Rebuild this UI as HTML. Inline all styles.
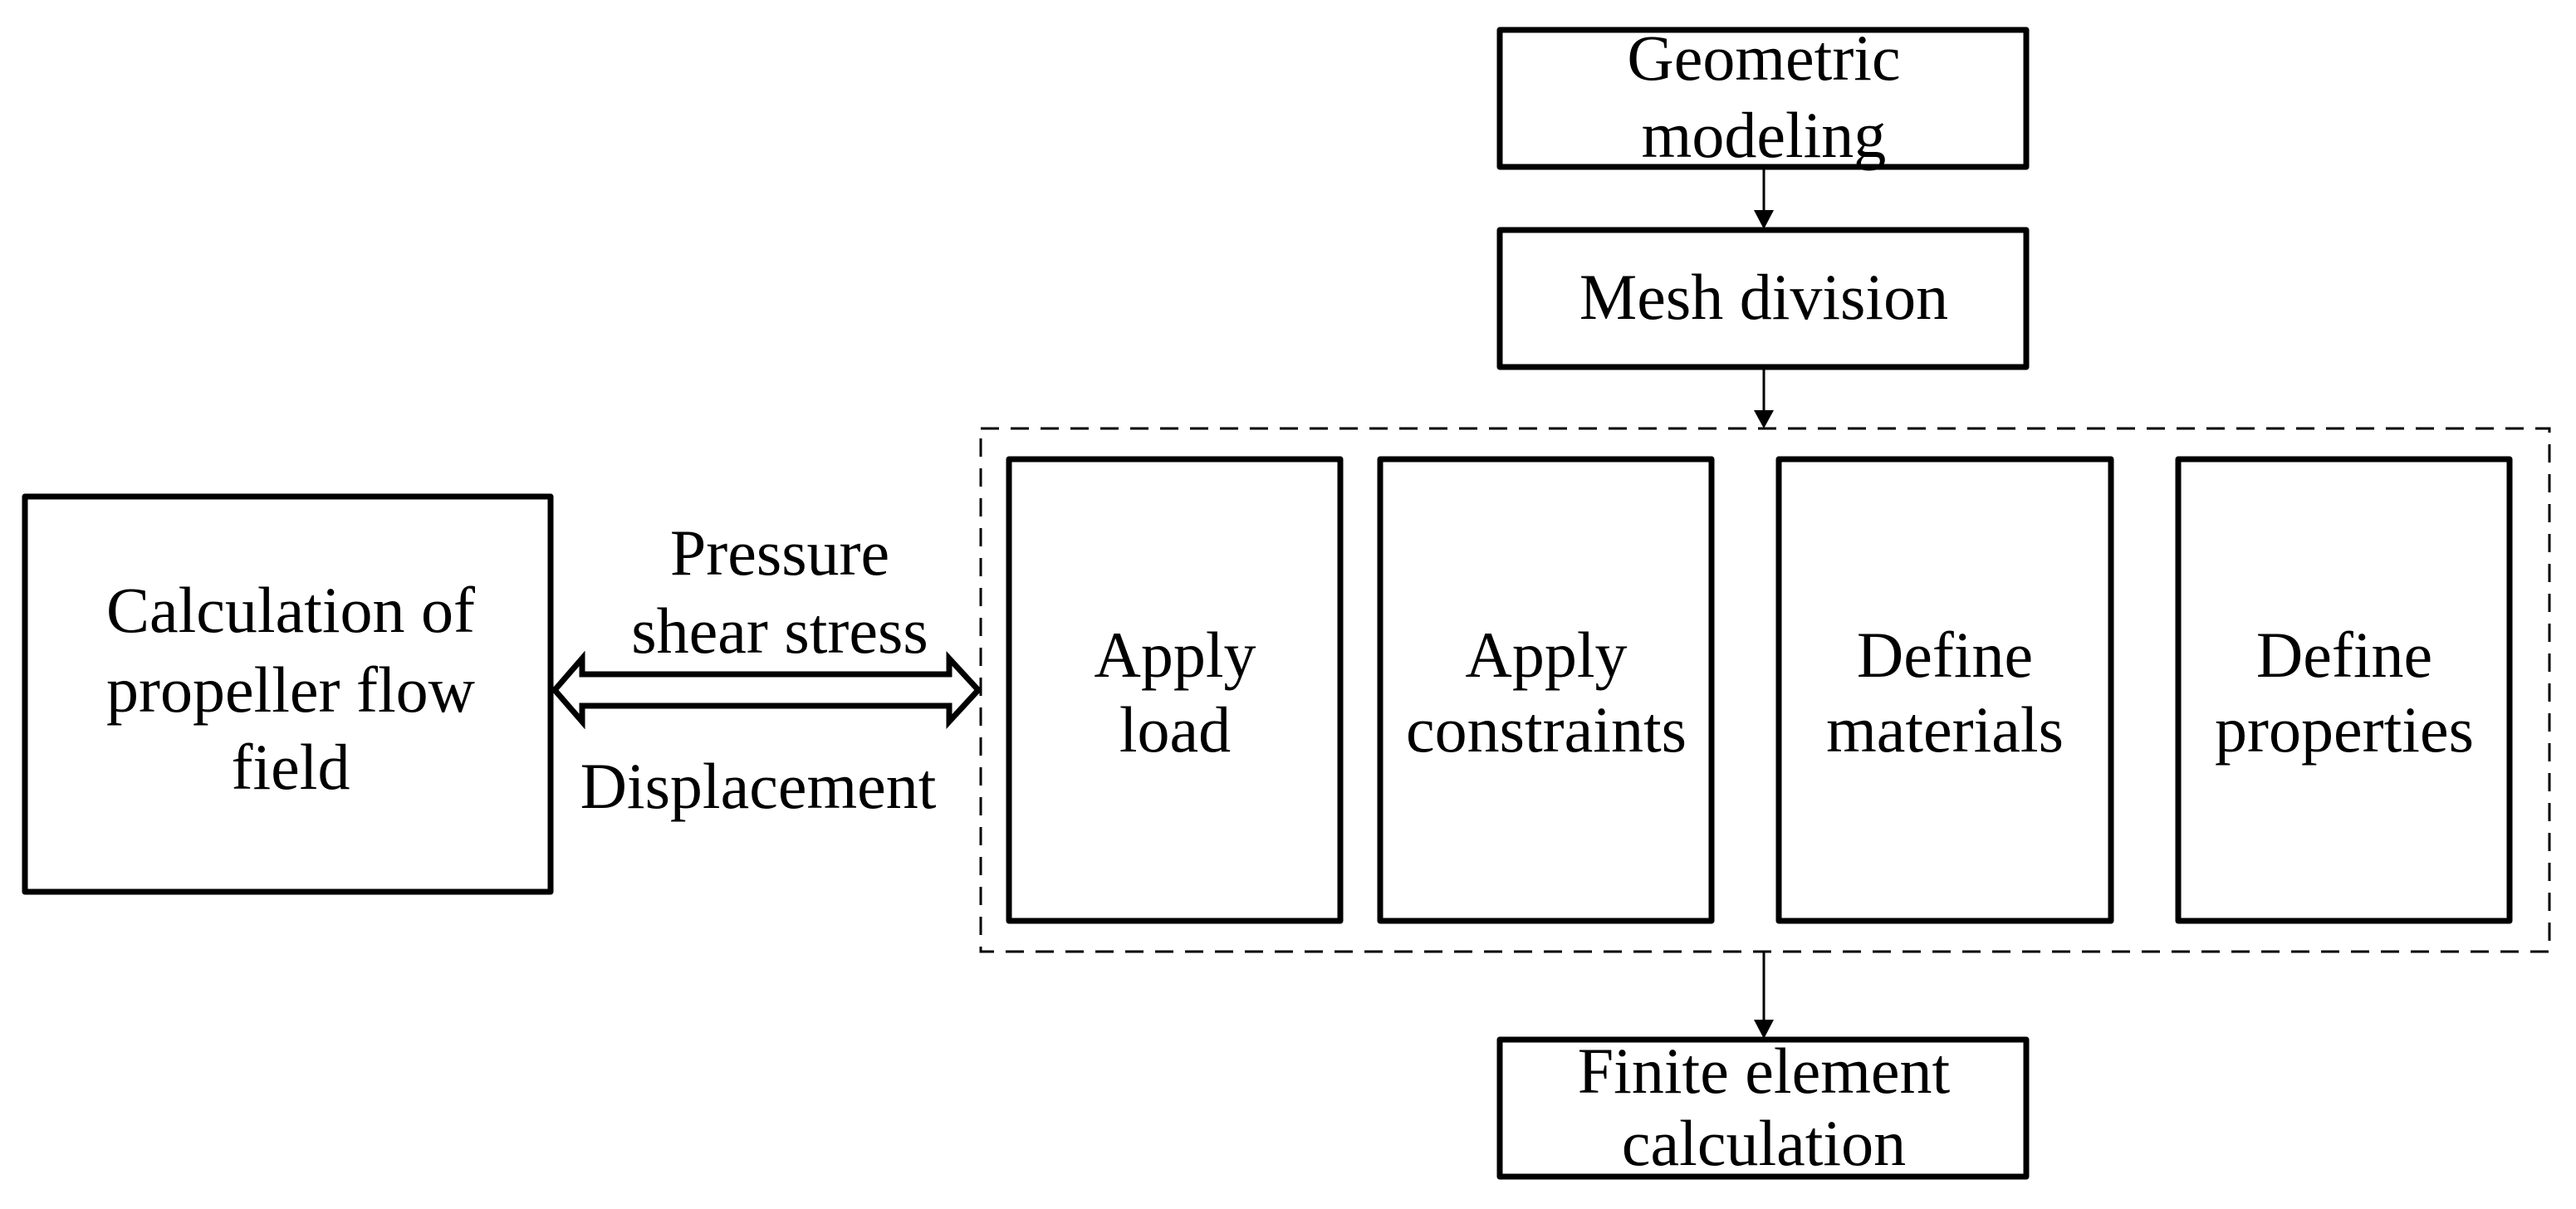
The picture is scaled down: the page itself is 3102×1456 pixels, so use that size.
<!DOCTYPE html>
<html><head><meta charset="utf-8"><style>
html,body{margin:0;padding:0;background:#fff;}
svg{display:block;}
text{font-family:"Liberation Serif",serif;font-size:78px;fill:#000;text-anchor:middle;}
</style></head><body>
<svg width="3102" height="1456" viewBox="0 0 3102 1456" xmlns="http://www.w3.org/2000/svg">
<g fill="none" stroke="#000" stroke-width="7" stroke-linejoin="round">
<rect x="30" y="598" width="633" height="476"/>
<rect x="1806" y="36" width="634" height="165"/>
<rect x="1806" y="277" width="634" height="165"/>
<rect x="1806" y="1252" width="634" height="165"/>
<rect x="1215" y="553" width="399" height="556"/>
<rect x="1662" y="553" width="399" height="556"/>
<rect x="2142" y="553" width="400" height="556"/>
<rect x="2623" y="553" width="399" height="556"/>
</g>
<rect x="1181" y="516" width="1889" height="630" fill="none" stroke="#000" stroke-width="3" stroke-dasharray="22,14"/>
<g stroke="#000" stroke-width="3">
<line x1="2124" y1="203" x2="2124" y2="255"/>
<line x1="2124" y1="444" x2="2124" y2="496"/>
<line x1="2124" y1="1146" x2="2124" y2="1230"/>
</g>
<g fill="#000">
<polygon points="2112,253 2136,253 2124,276"/>
<polygon points="2112,494 2136,494 2124,516"/>
<polygon points="2112,1228 2136,1228 2124,1251"/>
</g>
<polygon points="668,831 701,793 701,812 1143,812 1143,793 1178,831 1143,869 1143,850 701,850 701,869" fill="#fff" stroke="#000" stroke-width="7" stroke-linejoin="miter"/>
<text x="350" y="761">Calculation of</text>
<text x="350" y="857">propeller flow</text>
<text x="350" y="950">field</text>
<text x="939" y="692">Pressure</text>
<text x="939" y="786">shear stress</text>
<text x="913" y="973">Displacement</text>
<text x="2124" y="96">Geometric</text>
<text x="2124" y="189">modeling</text>
<text x="2124" y="384">Mesh division</text>
<text x="2124" y="1316">Finite element</text>
<text x="2124" y="1403">calculation</text>
<text x="1415" y="815">Apply</text>
<text x="1415" y="905">load</text>
<text x="1862" y="815">Apply</text>
<text x="1862" y="905">constraints</text>
<text x="2342" y="815">Define</text>
<text x="2342" y="905">materials</text>
<text x="2823" y="815">Define</text>
<text x="2823" y="905">properties</text>
</svg>
</body></html>
